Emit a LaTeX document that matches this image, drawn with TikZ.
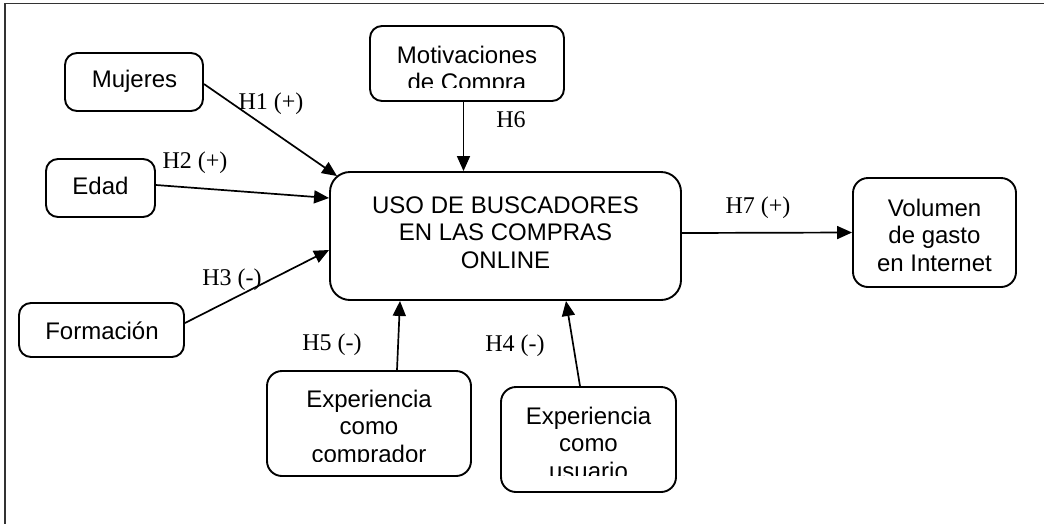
\documentclass[tikz,border=0pt]{standalone}
\usepackage{fontspec}
\setmainfont{Liberation Serif}
\newfontfamily\arialf{Liberation Sans}
\usetikzlibrary{arrows.meta}
\tikzset{
  box/.style={draw=black, line width=1.9pt, rounded corners=12pt, inner sep=0pt},
  txt/.style={font=\arialf\fontsize{24}{27.5}\selectfont, align=center, inner sep=0pt, anchor=base},
  lbl/.style={font=\fontsize{24}{28}\selectfont, inner sep=0pt, anchor=base},
  arr/.style={line width=1.7pt, -{Triangle[length=15pt,width=13pt]}},
  frame/.style={draw=black!80, line width=1.5pt}
}
\begin{document}
\begin{tikzpicture}[x=1pt,y=-1pt]
\clip (0,0) rectangle (1044,523);
\fill[white] (0,0) rectangle (1044,523);
\draw[frame] (5,3.5) rectangle (1070,560);

% boxes
\node[box, minimum width=138pt, minimum height=58pt] (mujeres) at (134,82) {};
\node[box, minimum width=109pt, minimum height=58pt] (edad) at (100.5,188) {};
\node[box, minimum width=165pt, minimum height=54pt] (formacion) at (101.5,330) {};
\node[box, minimum width=194pt, minimum height=75pt] (motiv) at (467,63.5) {};
\node[box, rounded corners=20pt, minimum width=351pt, minimum height=128pt] (main) at (505.5,236) {};
\node[box, rounded corners=15pt, minimum width=163pt, minimum height=109pt] (volumen) at (934.5,232.5) {};
\node[box, rounded corners=15pt, minimum width=204pt, minimum height=105pt] (expcomp) at (369,423.5) {};
\node[box, rounded corners=15pt, minimum width=175pt, minimum height=105pt] (expusu) at (588.5,439.5) {};

% texts
\node[txt] (tmujeres) at (134.5,87) {Mujeres};
\node[txt] (tedad) at (100.5,194) {Edad};
\node[txt] (tformacion) at (102,339) {Formación};
\node[txt] (tmain) at (505.5,268) {USO DE BUSCADORES\\EN LAS COMPRAS\\ONLINE};
\node[txt] (tvolumen) at (934.5,271) {Volumen\\de gasto\\en Internet};
\begin{scope}
  \clip (372,28) rectangle (562,87);
  \node[txt] (tmotiv) at (467,90.5) {Motivaciones\\de Compra};
\end{scope}
\begin{scope}
  \clip (269,373) rectangle (469,461);
  \node[txt] (texpcomp) at (369,462) {Experiencia\\como\\comprador};
\end{scope}
\begin{scope}
  \clip (503,389) rectangle (674,475);
  \node[txt] (texpusu) at (588.5,479) {Experiencia\\como\\usuario};
\end{scope}

% connectors
\draw[arr] ([yshift=-2pt]mujeres.east) -- ([xshift=8pt,yshift=-5pt]main.north west);
\draw[arr] ([yshift=3pt]edad.east) -- ([yshift=38pt]main.west);
\draw[arr] ([yshift=7pt]formacion.east) -- ([yshift=-14pt]main.west);
\draw[arr] ([xshift=-3.5pt]motiv.south) -- ([xshift=-3.5pt]motiv.south |- main.north);
\draw[arr] ([xshift=28pt]expcomp.north) -- ([xshift=-105.5pt]main.south);
\draw[arr] ([xshift=-8.5pt]expusu.north) -- ([xshift=60.5pt]main.south);
\draw[arr] ([yshift=3pt]main.east) -- (volumen.west);

% labels
\node[lbl] (h1) at (271,109) {H1 (+)};
\node[lbl] (h2) at (195,168) {H2 (+)};
\node[lbl] (h3) at (232,285) {H3 (-)};
\node[lbl] (h6) at (511,127) {H6};
\node[lbl] (h5) at (332,350) {H5 (-)};
\node[lbl] (h4) at (515,351) {H4 (-)};
\node[lbl] (h7) at (758,213) {H7 (+)};
\end{tikzpicture}
\end{document}
